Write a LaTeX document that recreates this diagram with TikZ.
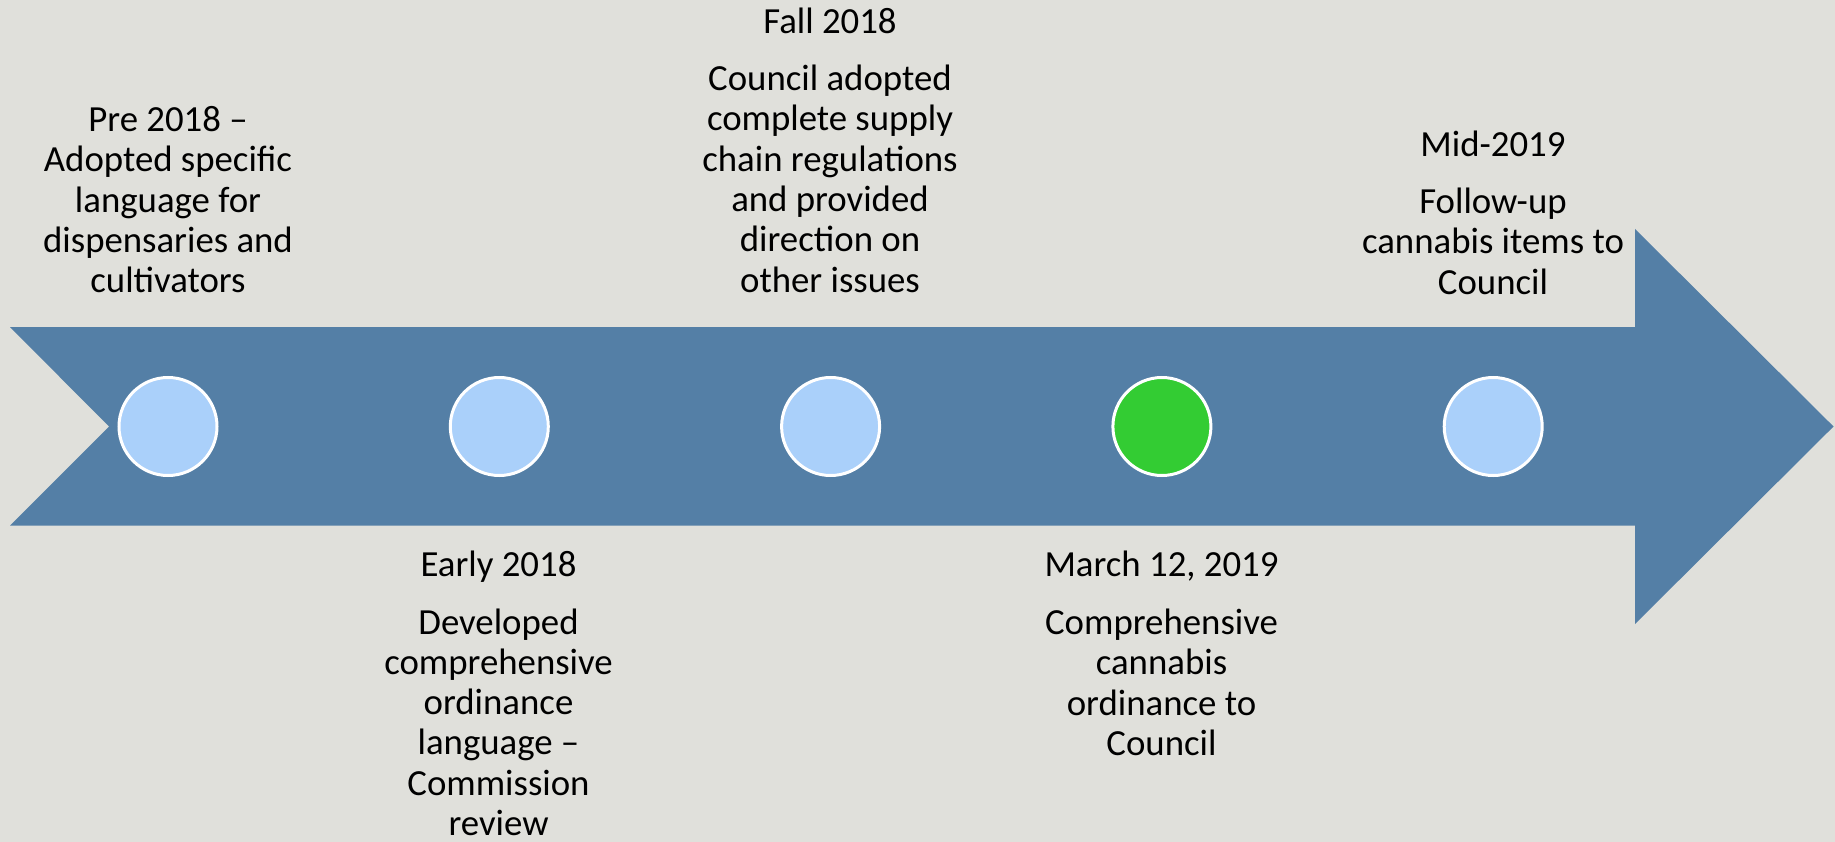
\documentclass[tikz,border=0pt]{standalone}
\usepackage{fontspec}
\setmainfont{Carlito}
\definecolor{bgc}{RGB}{224,224,219}
\definecolor{arrowc}{RGB}{84,127,166}
\definecolor{dotc}{RGB}{170,208,250}
\definecolor{greenc}{RGB}{51,204,51}
\begin{document}
\begin{tikzpicture}[x=1pt,y=-1pt,
  dot/.style={circle,draw=white,line width=3pt,minimum size=98pt,inner sep=0pt,fill=dotc},
  lbl/.style={anchor=base,inner sep=0pt}]
\fill[bgc] (0,0) rectangle (1835,842);
\useasboundingbox (0,0) rectangle (1835,842);
\fill[arrowc] (10,327) -- (1635,327) -- (1635,229) -- (1833.5,426.5) -- (1635,624) -- (1635,525.5) -- (10,525.5) -- (109,426.5) -- cycle;
\node[dot] (c1) at (168,426.5) {};
\node[dot] (c2) at (499.3,426.5) {};
\node[dot] (c3) at (830.6,426.5) {};
\node[dot,fill=greenc] (c4) at (1161.9,426.5) {};
\node[dot] (c5) at (1493.2,426.5) {};
\newcommand{\blk}[1]{\parbox[t]{340pt}{\centering\fontsize{36.8}{40.3}\selectfont #1}}
\node[lbl] (t1) at (168,131.7) {\blk{Pre 2018 --\\Adopted specific\\language for\\dispensaries and\\cultivators}};
\node[lbl] (t2) at (498.5,576.7) {\blk{Early 2018\\[17pt]Developed\\comprehensive\\ordinance\\language --\\Commission\\review}};
\node[lbl] (t3) at (830,33.3) {\blk{Fall 2018\\[17pt]Council adopted\\complete supply\\chain regulations\\and provided\\direction on\\other issues}};
\node[lbl] (t4) at (1161.5,576.7) {\blk{March 12, 2019\\[17.5pt]Comprehensive\\cannabis\\ordinance to\\Council}};
\node[lbl] (t5) at (1493,156.7) {\blk{Mid-2019\\[16.5pt]Follow-up\\cannabis items to\\Council}};
\end{tikzpicture}
\end{document}
